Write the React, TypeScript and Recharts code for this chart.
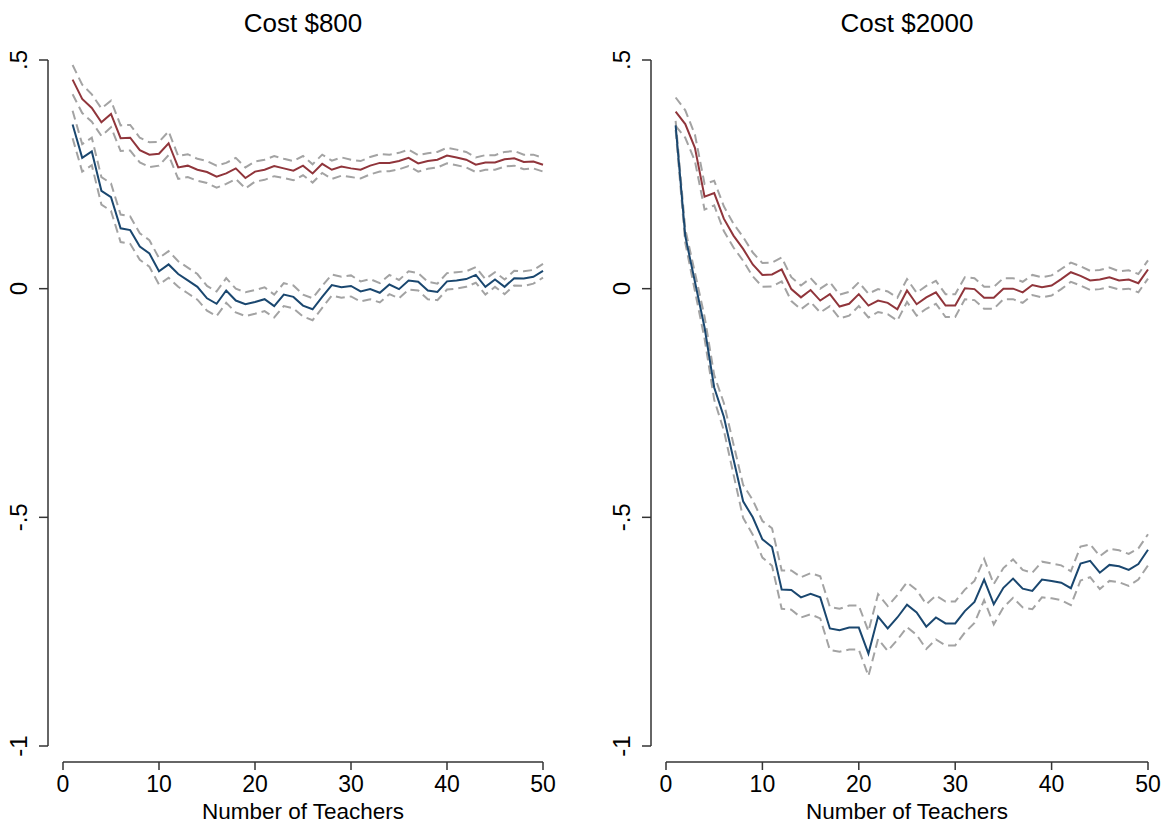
import React from "react";
import { LineChart, Line, XAxis, YAxis } from "recharts";

const teachers = [
  1, 2, 3, 4, 5, 6, 7, 8, 9, 10, 11, 12, 13, 14, 15, 16, 17, 18, 19, 20, 21, 22, 23, 24, 25,
  26, 27, 28, 29, 30, 31, 32, 33, 34, 35, 36, 37, 38, 39, 40, 41, 42, 43, 44, 45, 46, 47, 48, 49, 50,
];
const xTicks = [0, 10, 20, 30, 40, 50];
const yTicks = [-1, -0.5, 0, 0.5];
const titles = ["Cost $800", "Cost $2000"];

// Cost $800
const red800 = [
  0.457, 0.415, 0.395, 0.364, 0.382, 0.329, 0.33, 0.303, 0.293, 0.295,
  0.318, 0.265, 0.269, 0.26, 0.255, 0.245, 0.252, 0.263, 0.242, 0.256,
  0.26, 0.268, 0.263, 0.258, 0.269, 0.252, 0.273, 0.26, 0.267, 0.263,
  0.26, 0.269, 0.275, 0.275, 0.279, 0.286, 0.274, 0.279, 0.282, 0.291,
  0.287, 0.282, 0.271, 0.276, 0.276, 0.283, 0.285, 0.277, 0.278, 0.271,
];
const red800Ci = [
  0.032, 0.031, 0.03, 0.03, 0.029, 0.028, 0.028, 0.027, 0.027, 0.026,
  0.026, 0.025, 0.025, 0.024, 0.024, 0.024, 0.023, 0.023, 0.023, 0.022,
  0.022, 0.022, 0.021, 0.021, 0.021, 0.02, 0.02, 0.02, 0.02, 0.019,
  0.019, 0.019, 0.019, 0.018, 0.018, 0.018, 0.018, 0.017, 0.017, 0.017,
  0.017, 0.017, 0.016, 0.016, 0.016, 0.016, 0.016, 0.016, 0.015, 0.015,
];
const blue800 = [
  0.359, 0.286, 0.3, 0.214, 0.2, 0.132, 0.128, 0.092, 0.077, 0.038,
  0.053, 0.032, 0.018, 0.004, -0.021, -0.033, -0.004, -0.026, -0.034, -0.029,
  -0.023, -0.038, -0.013, -0.018, -0.037, -0.045, -0.018, 0.008, 0.003, 0.006,
  -0.006, -0.001, -0.009, 0.009, -0.001, 0.018, 0.015, -0.004, -0.007, 0.016,
  0.018, 0.021, 0.03, 0.004, 0.02, 0.004, 0.023, 0.022, 0.026, 0.039,
];
const blue800Ci = [
  0.03, 0.03, 0.03, 0.03, 0.03, 0.03, 0.03, 0.029, 0.029, 0.029,
  0.029, 0.028, 0.028, 0.028, 0.027, 0.027, 0.027, 0.026, 0.026, 0.026,
  0.026, 0.025, 0.025, 0.025, 0.024, 0.024, 0.024, 0.023, 0.023, 0.023,
  0.022, 0.022, 0.021, 0.021, 0.02, 0.02, 0.019, 0.019, 0.018, 0.018,
  0.018, 0.017, 0.017, 0.017, 0.016, 0.016, 0.016, 0.016, 0.015, 0.015,
];

// Cost $2000
const red2000 = [
  0.387, 0.36, 0.308, 0.201, 0.209, 0.153, 0.116, 0.087, 0.053, 0.03,
  0.031, 0.042, -0.001, -0.019, -0.003, -0.026, -0.012, -0.039, -0.033, -0.012,
  -0.037, -0.026, -0.031, -0.045, -0.004, -0.034, -0.019, -0.008, -0.037, -0.037,
  0.001, -0.001, -0.02, -0.02, 0.0, 0.0, -0.008, 0.008, 0.003, 0.007,
  0.021, 0.036, 0.028, 0.018, 0.02, 0.025, 0.018, 0.02, 0.012, 0.042,
];
const red2000Ci = [
  0.031, 0.03, 0.029, 0.028, 0.027, 0.027, 0.026, 0.026, 0.026, 0.026,
  0.026, 0.026, 0.026, 0.026, 0.026, 0.026, 0.026, 0.026, 0.026, 0.026,
  0.026, 0.025, 0.025, 0.025, 0.025, 0.025, 0.025, 0.025, 0.025, 0.025,
  0.024, 0.024, 0.024, 0.024, 0.023, 0.023, 0.023, 0.022, 0.022, 0.022,
  0.022, 0.021, 0.021, 0.021, 0.021, 0.021, 0.02, 0.02, 0.02, 0.02,
];
const blue2000 = [
  0.357, 0.115, 0.015, -0.085, -0.216, -0.28, -0.373, -0.465, -0.5, -0.548,
  -0.565, -0.658, -0.659, -0.675, -0.667, -0.675, -0.743, -0.747, -0.741, -0.741,
  -0.798, -0.717, -0.743, -0.719, -0.691, -0.708, -0.739, -0.719, -0.732, -0.732,
  -0.705, -0.685, -0.636, -0.69, -0.654, -0.634, -0.656, -0.661, -0.636, -0.639,
  -0.643, -0.655, -0.601, -0.595, -0.621, -0.604, -0.607, -0.615, -0.602, -0.571,
];
const blue2000Ci = [
  0.01, 0.015, 0.02, 0.024, 0.027, 0.03, 0.033, 0.036, 0.038, 0.04,
  0.041, 0.042, 0.043, 0.044, 0.045, 0.046, 0.047, 0.047, 0.048, 0.048,
  0.049, 0.049, 0.049, 0.049, 0.049, 0.049, 0.049, 0.048, 0.048, 0.048,
  0.047, 0.046, 0.045, 0.044, 0.043, 0.042, 0.041, 0.04, 0.039, 0.038,
  0.038, 0.037, 0.037, 0.036, 0.036, 0.035, 0.035, 0.035, 0.034, 0.034,
];

const FONT = "'Liberation Sans', Arial, sans-serif";
const RED = "#90353b";
const BLUE = "#1a476f";
const GRAY = "#a3a3a3";
const AXIS = "#333";
const XGAP = 16; // stata-style gap between the axes and the plot region
const YGAP = 15;

const fmtY = (v: number) => {
  if (v === 0) return "0";
  return String(v).replace("0.", ".");
};

const YTick = (props: any) => {
  const { x, y, payload } = props;
  const cx = x - 35;
  return (
    <text
      x={cx}
      y={y}
      dy="0.35em"
      textAnchor="middle"
      transform={`rotate(-90 ${cx} ${y})`}
      fontSize={24}
      fontFamily={FONT}
      fill="#000"
    >
      {fmtY(payload.value)}
    </text>
  );
};

type PanelProps = {
  title: string;
  red: number[];
  redCi: number[];
  blue: number[];
  blueCi: number[];
  left: number;
  width: number;
  yAxisWidth: number;
  right: number;
};

function Panel({ title, red, redCi, blue, blueCi, left, width, yAxisWidth, right }: PanelProps) {
  const data = teachers.map((n, i) => ({
    n,
    red: red[i],
    redHi: red[i] + redCi[i],
    redLo: red[i] - redCi[i],
    blue: blue[i],
    blueHi: blue[i] + blueCi[i],
    blueLo: blue[i] - blueCi[i],
  }));
  const plotCenter = yAxisWidth + (width - yAxisWidth - right) / 2;
  const dashed = { stroke: GRAY, strokeWidth: 2, strokeDasharray: "9 5", dot: false, isAnimationActive: false };
  return (
    <div style={{ position: "absolute", left, top: 0, width, height: 823 }}>
      <div
        style={{
          position: "absolute",
          left: plotCenter - 150,
          width: 300,
          top: 8,
          textAlign: "center",
          fontFamily: FONT,
          fontSize: 26,
          lineHeight: "30px",
          color: "#000",
        }}
      >
        {title}
      </div>
      <LineChart width={width} height={823} data={data} margin={{ top: 60, right, bottom: 0, left: 0 }}>
        <XAxis
          dataKey="n"
          type="number"
          domain={[0, 50]}
          ticks={xTicks}
          height={77}
          tickSize={8}
          tickMargin={22}
          axisLine={{ stroke: AXIS, strokeWidth: 1.5, transform: `translate(0,${XGAP})` }}
          tickLine={{ stroke: AXIS, strokeWidth: 1.5, transform: `translate(0,${XGAP})` }}
          tick={{ fill: "#000", fontSize: 23, fontFamily: FONT }}
          label={{
            value: "Number of Teachers",
            position: "insideBottom",
            offset: 4,
            fill: "#000",
            fontSize: 22.5,
            fontFamily: FONT,
          }}
        />
        <YAxis
          type="number"
          domain={[-1, 0.5]}
          ticks={yTicks}
          width={yAxisWidth}
          tickSize={9}
          tickMargin={0}
          axisLine={{ stroke: AXIS, strokeWidth: 1.5, transform: `translate(-${YGAP},0)` }}
          tickLine={{ stroke: AXIS, strokeWidth: 1.5, transform: `translate(-${YGAP},0)` }}
          tick={<YTick />}
        />
        <Line dataKey="redHi" {...dashed} />
        <Line dataKey="redLo" {...dashed} />
        <Line dataKey="blueHi" {...dashed} />
        <Line dataKey="blueLo" {...dashed} />
        <Line dataKey="red" stroke={RED} strokeWidth={2} dot={false} isAnimationActive={false} />
        <Line dataKey="blue" stroke={BLUE} strokeWidth={2} dot={false} isAnimationActive={false} />
      </LineChart>
    </div>
  );
}

export default function App() {
  return (
    <div style={{ position: "absolute", left: 0, top: 0, width: 1165, height: 823, background: "#fff", overflow: "hidden" }}>
      <Panel title={titles[0]} red={red800} redCi={red800Ci} blue={blue800} blueCi={blue800Ci} left={0} width={600} yAxisWidth={63} right={57} />
      <Panel title={titles[1]} red={red2000} redCi={red2000Ci} blue={blue2000} blueCi={blue2000Ci} left={600} width={565} yAxisWidth={66} right={17} />
    </div>
  );
}
